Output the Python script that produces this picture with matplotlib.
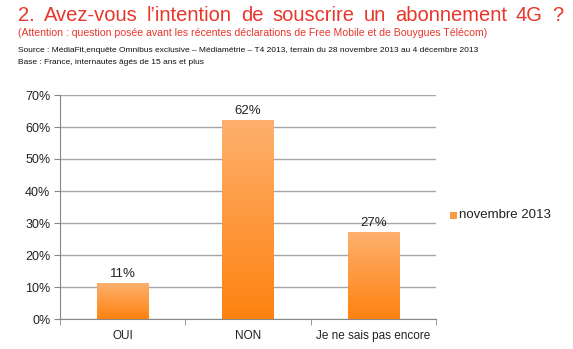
import numpy as np
import matplotlib
matplotlib.use("Agg")
import matplotlib.pyplot as plt
from matplotlib.colors import LinearSegmentedColormap

categories = ["OUI", "NON", "Je ne sais pas encore"]
values = [11, 62, 27]
series_name = "novembre 2013"
yticks = [0, 10, 20, 30, 40, 50, 60, 70]

title = "2. Avez-vous l\u2019intention de souscrire un abonnement 4G ?"
subtitle = "(Attention : question pos\u00e9e avant les r\u00e9centes d\u00e9clarations de Free Mobile et de Bouygues T\u00e9l\u00e9com)"
source = ("Source : M\u00e9diaFit,enqu\u00eate Omnibus exclusive \u2013 M\u00e9diam\u00e9trie \u2013 T4 2013, "
          "terrain du 28 novembre 2013 au 4 d\u00e9cembre 2013")
base = "Base : France, internautes \u00e2g\u00e9s de 15 ans et plus"

W, H = 573, 349
fig = plt.figure(figsize=(W / 100, H / 100), dpi=100)
plt.rcParams["font.family"] = ["Liberation Sans", "DejaVu Sans"]

red = "#E8362C"

# Justified title: spread words across the full width
words = title.split(" ")
tx0, tx1, ty = 18 / W, 563 / W, 1 - 21 / H
texts = [fig.text(0, ty, w, fontsize=14.5, color=red, va="baseline", ha="left") for w in words]
fig.canvas.draw()
r = fig.canvas.get_renderer()
widths = [t.get_window_extent(r).width / W for t in texts]
gap = (tx1 - tx0 - sum(widths)) / (len(words) - 1)
x = tx0
for t, w in zip(texts, widths):
    t.set_x(x)
    x += w + gap


def fitted_text(y_px, s, right_px, color, size):
    t = fig.text(18 / W, 1 - y_px / H, s, fontsize=size, color=color, va="baseline", ha="left")
    fig.canvas.draw()
    w = t.get_window_extent(fig.canvas.get_renderer()).width
    t.set_fontsize(size * (right_px - 18) / w)
    return t


fitted_text(36.5, subtitle, 490, red, 9.0)
src = fitted_text(52, source, 478, "#111111", 6.6)
fig.text(18 / W, 1 - 63.5 / H, base, fontsize=src.get_fontsize(), color="#111111",
         va="baseline", ha="left")

ax = fig.add_axes([60 / W, 1 - 319 / H, (436 - 60) / W, (319 - 95) / H])

grad = LinearSegmentedColormap.from_list("bar", ["#FF8210", "#FDB06D"])
bar_w = 0.41
gimg = np.linspace(0, 1, 256).reshape(-1, 1)
for i, v in enumerate(values):
    ax.imshow(gimg, cmap=grad, origin="lower", aspect="auto",
              extent=[i - bar_w / 2, i + bar_w / 2, 0, v], zorder=3, interpolation="bicubic")
    ax.text(i, v + 1.2, f"{v}%", ha="center", va="bottom", fontsize=9.5, color="#222222", zorder=4)
ax.set_xlim(-0.5, len(categories) - 0.5)
ax.set_ylim(0, 70)

ax.set_yticks(yticks)
ax.set_yticklabels([f"{t}%" for t in yticks], fontsize=9, color="#222222")
ax.set_xticks(range(len(categories)))
ax.set_xticklabels(categories, fontsize=8.5, color="#222222")
ax.set_xticks(np.arange(-0.5, len(categories)), minor=True)
ax.tick_params(axis="x", which="major", length=0, pad=8)
ax.tick_params(axis="x", which="minor", length=4, color="#888888", direction="out")
ax.tick_params(axis="y", length=4, color="#888888", pad=3)
ax.grid(axis="y", color="#A6A6A6", linewidth=1.0, zorder=0)
ax.set_axisbelow(True)
for s in ["top", "right"]:
    ax.spines[s].set_visible(False)
ax.spines["left"].set_color("#888888")
ax.spines["bottom"].set_color("#888888")

# Legend entry
fig.patches.append(plt.Rectangle((450 / W, 1 - 219 / H), 7 / W, 7 / H,
                                 transform=fig.transFigure, facecolor="#FD9A44", edgecolor="none"))
fig.text(459 / W, 1 - 215 / H, series_name, fontsize=9.5, color="#222222", va="center", ha="left")

fig.savefig("out.png", dpi=100)
